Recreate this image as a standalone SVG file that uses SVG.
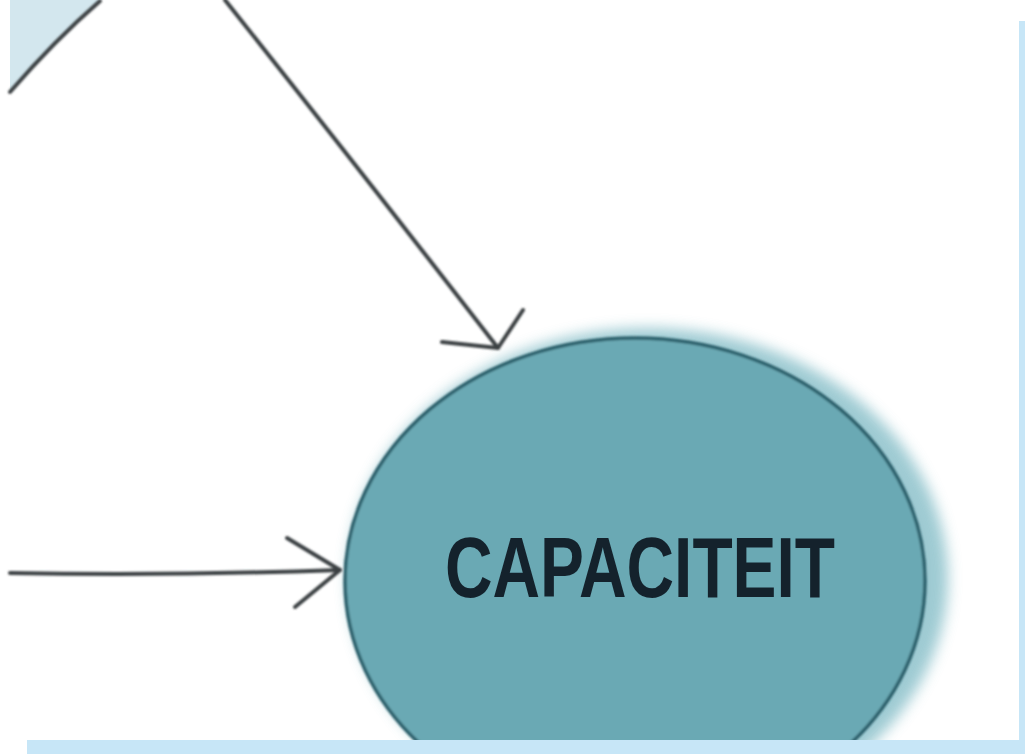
<svg xmlns="http://www.w3.org/2000/svg" width="1025" height="754" viewBox="0 0 1025 754">
  <style>
    .link { fill: none; stroke: #3b4043; stroke-width: 4; stroke-linecap: round; stroke-linejoin: round; }
    .label { font-family: "Liberation Sans Narrow", "Liberation Sans", sans-serif; font-weight: bold; fill: #14222c; }
  </style>
  <defs>
    <filter id="soft" x="-20%" y="-20%" width="140%" height="140%">
      <feGaussianBlur stdDeviation="7"/>
    </filter>
    <filter id="edge" x="-5%" y="-5%" width="110%" height="110%">
      <feGaussianBlur stdDeviation="0.8"/>
    </filter>
  </defs>

  <!-- page -->
  <rect width="1025" height="754" fill="#ffffff"/>
  <rect x="1019" y="21" width="6" height="733" fill="#c7e6f7"/>
  <rect x="27" y="740" width="998" height="14" fill="#c7e6f7"/>

  <!-- node cut off at the top left -->
  <g id="node-top-left">
    <path d="M10,0 L100,0 Q55,40 10,92 Z" fill="#d3e7ee"/>
    <path d="M100,1 Q55,40 10,92" class="link" stroke="#4a5a5e" filter="url(#edge)"/>
  </g>

  <!-- capacity node -->
  <g id="node-capaciteit">
    <clipPath id="pageClip"><rect x="0" y="0" width="1019" height="740"/></clipPath>
    <g clip-path="url(#pageClip)">
      <ellipse cx="648" cy="578" rx="300" ry="250" fill="#86bec8" filter="url(#soft)" opacity="0.8"/>
      <ellipse cx="635" cy="581" rx="290" ry="243" fill="#6aa9b4" stroke="#2c5f6a" stroke-width="3.5" filter="url(#edge)"/>
    </g>
    <text class="label" x="640" y="597" font-size="86" text-anchor="middle" textLength="390" lengthAdjust="spacingAndGlyphs">CAPACITEIT</text>
  </g>

  <!-- connectors -->
  <g id="connectors" filter="url(#edge)">
    <path class="link" d="M225,0 Q360,170 498,348"/>
    <path class="link" d="M442,342 L498,348 L523,310"/>
    <path class="link" d="M10,573 Q170,576 340,570"/>
    <path class="link" d="M287,538 L340,570 L295,607"/>
  </g>
</svg>
